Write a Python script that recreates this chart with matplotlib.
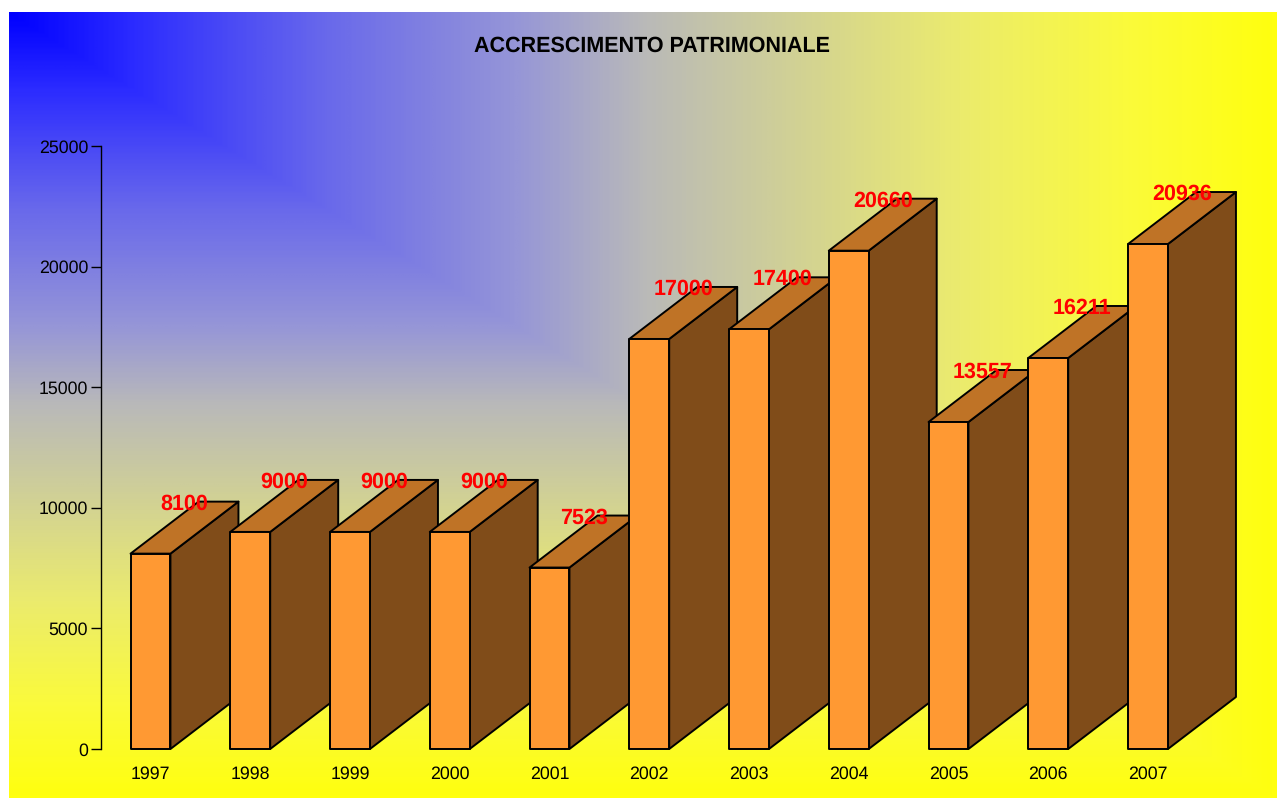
import numpy as np
import matplotlib
matplotlib.use("Agg")
import matplotlib.pyplot as plt
from matplotlib.colors import LinearSegmentedColormap
from matplotlib.patches import Polygon

plt.rcParams['font.family'] = ['Liberation Sans', 'DejaVu Sans']
plt.rcParams['text.hinting'] = 'none'

years = ['1997', '1998', '1999', '2000', '2001', '2002', '2003', '2004', '2005', '2006', '2007']
values = [8100, 9000, 9000, 9000, 7523, 17000, 17400, 20660, 13557, 16211, 20936]
y_ticks = [0, 5000, 10000, 15000, 20000, 25000]

W, H = 1277, 798
fig = plt.figure(figsize=(W / 100, H / 100), dpi=100, facecolor='white')

# background: rectangular gradient, blue corner to yellow
bg = fig.add_axes([9 / W, 0, (W - 9) / W, (H - 12) / H], zorder=0)
bg.axis('off')
u = np.linspace(0, 1, 640)
v = np.linspace(0, 1, 400)
uu, vv = np.meshgrid(u, v)
stops = [(0.0, (0, 0, 255)), (0.1, (45, 45, 255)), (0.25, (105, 105, 235)), (0.4, (150, 150, 215)),
         (0.5, (185, 185, 185)), (0.75, (235, 235, 110)), (0.88, (250, 250, 60)), (1.0, (255, 255, 15))]
cmap = LinearSegmentedColormap.from_list('by', [(p, tuple(c / 255 for c in col)) for p, col in stops])
bg.imshow(np.maximum(uu, vv), cmap=cmap, vmin=0, vmax=1, aspect='auto', interpolation='bilinear')

# main axes, pixel placement of the axis line
x0, y0, y1 = 101, 749, 146
ax = fig.add_axes([x0 / W, (H - y0) / H, (W - x0) / W, (y0 - y1) / H], zorder=1)
ax.patch.set_alpha(0)
step = 99.75
ax.set_xlim((x0 - 150.5) / step, (W - 150.5) / step)
ax.set_ylim(0, 25000)
for s in ['top', 'right', 'bottom']:
    ax.spines[s].set_visible(False)
ax.spines['left'].set_linewidth(1.0)
ax.set_yticks(y_ticks)
ax.tick_params(axis='y', length=7.2, width=1.0, labelsize=12.8, pad=2)
ax.set_xticks(range(len(years)))
ax.set_xticklabels(years, fontsize=12.8)
ax.tick_params(axis='x', length=0, pad=12)

bw = 0.4
dx = 68 / step
dy = 52 / 603 * 25000
for i, val in enumerate(values):
    l, r = i - bw / 2, i + bw / 2
    kw = dict(edgecolor='black', linewidth=1.4, joinstyle='round', clip_on=False, zorder=2 + i)
    ax.add_patch(Polygon([(r, 0), (r + dx, dy), (r + dx, val + dy), (r, val)], facecolor='#804C19', **kw))
    ax.add_patch(Polygon([(l, val), (r, val), (r + dx, val + dy), (l + dx, val + dy)], facecolor='#BF7326', **kw))
    ax.add_patch(Polygon([(l, 0), (r, 0), (r, val), (l, val)], facecolor='#FF9933', **kw))

for i, val in enumerate(values):
    ax.annotate(str(val), (i + dx / 2, val + dy), xytext=(0, -1.5), textcoords='offset points',
                color='red', fontsize=15.5, fontweight='bold',
                ha='center', va='center', annotation_clip=False, zorder=50)

fig.text(651.5 / W, 1 - 46.5 / H, 'ACCRESCIMENTO PATRIMONIALE', fontsize=15.5, fontweight='bold',
         ha='center', va='center', color='black', zorder=5)

fig.savefig('out.png', dpi=100)
